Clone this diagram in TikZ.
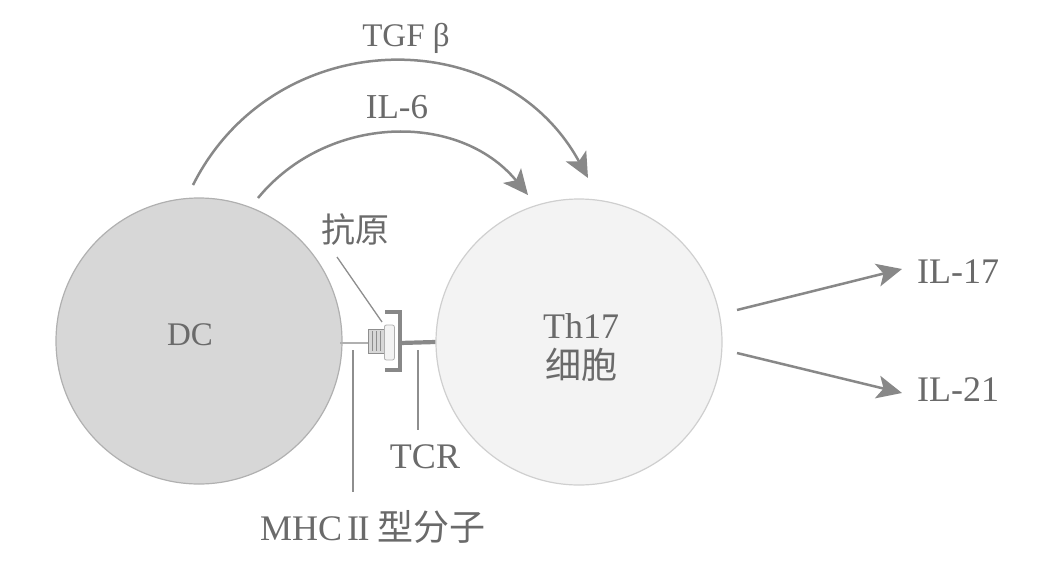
\documentclass[tikz,border=0pt]{standalone}
\usepackage{fontspec}
\setmainfont{Liberation Serif}
\newfontfamily\cjk{Noto Sans CJK SC}
\usetikzlibrary{arrows.meta}
\definecolor{dcfill}{HTML}{D7D7D7}
\definecolor{dcline}{HTML}{B0B0B0}
\definecolor{thfill}{HTML}{F3F3F3}
\definecolor{thline}{HTML}{CFCFCF}
\definecolor{txtc}{HTML}{6A6A6A}
\definecolor{arrc}{HTML}{888888}
\definecolor{leadc}{HTML}{8E8E8E}
\tikzset{
  cell/.style={circle, minimum size=286pt, inner sep=0pt, line width=1.2pt},
  lbl/.style={text=txtc, inner sep=0pt, font=\fontsize{36}{40}\selectfont},
  cjklbl/.style={text=txtc, inner sep=0pt, font=\cjk\fontsize{34}{38}\selectfont},
  sig/.style={draw=arrc, line width=2.5pt, -{Stealth[length=25pt,width=23pt,inset=6pt]}},
  lead/.style={draw=leadc, line width=1.3pt},
}
\begin{document}
\begin{tikzpicture}[x=1pt,y=-1pt]
\useasboundingbox (0,0) rectangle (1061,576);
% cells
\node[cell, fill=dcfill, draw=dcline] (dc) at (199,341) {};
\node[cell, fill=thfill, draw=thline] (th) at (579,342) {};
\node[lbl, font=\fontsize{33}{38}\selectfont] (dclbl) at (190,335) {DC};
\node[lbl, align=center] (thlbl) at (581,347) {Th17\\{\cjk 细胞}};

% synapse
\coordinate (mhcL) at (340,343);
\coordinate (mhcR) at (368,343);
\draw[draw=dcline, line width=2.6pt] (mhcL) -- (mhcR);
\node[draw=leadc, fill=dcfill, line width=0.8pt, minimum width=16pt, minimum height=24pt, inner sep=0pt, anchor=west] (mhc) at (368,341) {};
\foreach \xx in {372,376,380} \draw[leadc, line width=0.6pt] (\xx,331) -- (\xx,351);
\node[draw=dcline, fill=thfill, rounded corners=2pt, line width=0.8pt, minimum width=10pt, minimum height=35pt, inner sep=0pt, anchor=west] (ag) at (384,342.5) {};
\draw[arrc, line width=4pt] (385,312) -- (400,312) -- (400,370) -- (385,370);
\coordinate (tcrL) at (400,343);
\draw[arrc, line width=4.2pt] (tcrL) -- (th.west);

% leaders
\node[cjklbl] (aglbl) at (355,230) {抗原};
\coordinate (agtip) at (382,322);
\draw[lead] (337,257) -- (agtip);
\coordinate (mhctop) at (353,350);
\coordinate (mhcbot) at (353,492);
\draw[lead] (mhctop) -- (mhcbot);
\coordinate (tcrtop) at (418,350);
\coordinate (tcrbot) at (418,430);
\draw[lead] (tcrtop) -- (tcrbot);
\node[lbl] (tcrlbl) at (425,457) {TCR};
\node[lbl, anchor=west] (mhclbl) at (260,527) {MHC\hspace{5pt}I\kern-1.5pt I\hspace{8pt}{\cjk 型分子}};

% cytokine arcs
\coordinate (tgfs) at (193,185);
\coordinate (tgfe) at (588,178);
\draw[sig] (tgfs) .. controls (274,24) and (502,20) .. (tgfe);
\node[lbl, font=\fontsize{33}{38}\selectfont] (tgflbl) at (406,38) {TGF β};
\coordinate (il6s) at (258,198);
\coordinate (il6e) at (528,195);
\draw[sig] (il6s) .. controls (327,114) and (459,111) .. (il6e);
\node[lbl, font=\fontsize{35}{38}\selectfont] (il6lbl) at (397,107) {IL-6};

% outputs
\node[lbl, anchor=west] (il17) at (917,272) {IL-17};
\node[lbl, anchor=west] (il21) at (917,390) {IL-21};
\coordinate (o1) at (737,310);
\coordinate (o2) at (737,353);
\draw[sig] (o1) -- ([xshift=-15pt,yshift=3pt]il17.west);
\draw[sig] (o2) -- ([xshift=-15pt,yshift=-3pt]il21.west);
\end{tikzpicture}
\end{document}
